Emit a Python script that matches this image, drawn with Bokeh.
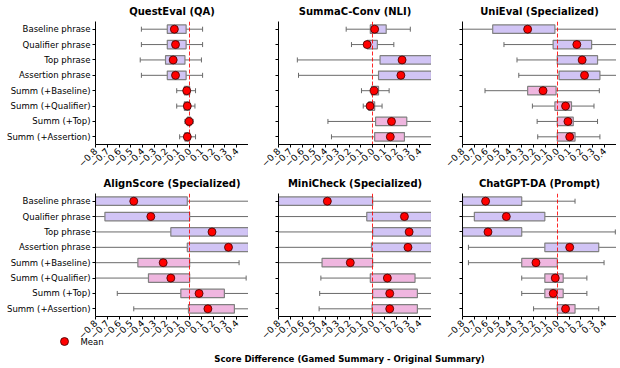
import math
from bokeh.plotting import figure
from bokeh.models import Range1d, FactorRange, FixedTicker, Label
from bokeh.layouts import column, row
from bokeh.embed import file_html
from bokeh.resources import INLINE

# ---------------- data ----------------
categories = ["Baseline phrase", "Qualifier phrase", "Top phrase", "Assertion phrase",
              "Summ (+Baseline)", "Summ (+Qualifier)", "Summ (+Top)", "Summ (+Assertion)"]

tick_values = [-0.8, -0.7, -0.6, -0.5, -0.4, -0.3, -0.2, -0.1, 0.0, 0.1, 0.2, 0.3, 0.4]
tick_labels = ["\u22120.8", "\u22120.7", "\u22120.6", "\u22120.5", "\u22120.4", "\u22120.3",
               "\u22120.2", "\u22120.1", "\u22120.0", "0.1", "0.2", "0.3", "0.4"]

panel_titles = ["QuestEval (QA)", "SummaC-Conv (NLI)", "UniEval (Specialized)",
                "AlignScore (Specialized)", "MiniCheck (Specialized)", "ChatGPT-DA (Prompt)"]

questeval_lo = [-0.41, -0.41, -0.42, -0.41, -0.11, -0.11, -0.04, -0.085]
questeval_q1 = [-0.19, -0.19, -0.205, -0.19, -0.045, -0.045, -0.02, -0.04]
questeval_q3 = [-0.03, -0.03, -0.04, -0.03, 0.0, 0.0, 0.01, 0.0]
questeval_hi = [0.11, 0.11, 0.10, 0.11, 0.05, 0.045, 0.03, 0.05]
questeval_mean = [-0.13, -0.12, -0.14, -0.12, -0.025, -0.02, -0.005, -0.02]

summac_lo = [-0.225, -0.18, -0.64, -0.63, -0.095, -0.08, -0.38, -0.35]
summac_q1 = [-0.02, -0.047, 0.063, 0.05, -0.01, -0.035, 0.025, 0.017]
summac_q3 = [0.115, 0.04, 0.75, 0.75, 0.05, 0.017, 0.29, 0.27]
summac_hi = [0.32, 0.18, 1.2, 1.2, 0.14, 0.08, 0.7, 0.7]
summac_mean = [0.017, -0.047, 0.25, 0.24, 0.012, -0.022, 0.16, 0.15]

unieval_lo = [-0.95, -0.45, -0.34, -0.325, -0.61, -0.21, -0.17, -0.165]
unieval_q1 = [-0.545, -0.035, 0.0, 0.015, -0.25, -0.02, 0.0, 0.0]
unieval_q3 = [-0.02, 0.29, 0.34, 0.36, -0.01, 0.12, 0.135, 0.15]
unieval_hi = [0.8, 0.75, 0.75, 0.8, 0.355, 0.31, 0.34, 0.36]
unieval_mean = [-0.25, 0.165, 0.21, 0.23, -0.12, 0.07, 0.09, 0.105]

alignscore_lo = [-1.0, -1.0, -1.0, -1.0, -1.0, -1.0, -0.615, -0.475]
alignscore_q1 = [-0.85, -0.72, -0.16, -0.02, -0.44, -0.35, -0.075, -0.01]
alignscore_q3 = [-0.02, 0.0, 0.6, 0.7, 0.0, 0.0, 0.295, 0.38]
alignscore_hi = [1.0, 1.0, 1.0, 1.0, 0.42, 0.48, 0.9, 0.9]
alignscore_mean = [-0.475, -0.33, 0.19, 0.33, -0.225, -0.16, 0.08, 0.155]

minicheck_lo = [-1.0, -1.0, -1.0, -1.0, -1.0, -0.44, -0.45, -0.455]
minicheck_q1 = [-0.85, -0.05, 0.0, -0.01, -0.43, -0.02, 0.0, -0.005]
minicheck_q3 = [0.0, 0.6, 0.7, 0.7, 0.0, 0.36, 0.38, 0.38]
minicheck_hi = [1.0, 1.0, 1.0, 1.0, 0.8, 0.9, 0.9, 0.9]
minicheck_mean = [-0.385, 0.27, 0.31, 0.30, -0.19, 0.125, 0.145, 0.145]

chatgpt_lo = [-1.0, -1.0, -1.0, -0.75, -0.75, -0.30, -0.30, -0.20]
chatgpt_q1 = [-0.85, -0.70, -0.85, -0.105, -0.30, -0.105, -0.105, 0.0]
chatgpt_q3 = [-0.30, -0.105, -0.30, 0.35, 0.0, 0.05, 0.05, 0.15]
chatgpt_hi = [0.15, 0.8, 0.49, 0.8, 0.395, 0.25, 0.25, 0.35]
chatgpt_mean = [-0.605, -0.43, -0.585, 0.105, -0.18, -0.017, -0.034, 0.07]

zero_line = [0.0]
legend_label = "Mean"
x_label = "Score Difference (Gamed Summary - Original Summary)"

# ---------------- style ----------------
FONT = "DejaVu Sans"
PHRASE_FILL = "#d1c4f5"
SUMM_FILL = "#efb6df"
EDGE = "#808080"
WHISK = "#6a6a6a"
MEAN_FILL = "red"
MEAN_EDGE = "#3a0000"
fills = [PHRASE_FILL] * 4 + [SUMM_FILL] * 4
FRAME_H = 123


def make_panel(title, lo, q1, q3, hi, mean, left_border, frame_w, top_border,
               bottom_border, show_labels):
    p = figure(frame_width=frame_w, frame_height=FRAME_H,
               x_range=Range1d(-0.8, 0.5),
               y_range=FactorRange(factors=categories[::-1]),
               output_backend="svg", toolbar_location=None,
               min_border_left=left_border, min_border_right=0,
               min_border_top=top_border, min_border_bottom=bottom_border,
               title=title)
    p.title.text_font = FONT
    p.title.text_font_style = "bold"
    p.title.text_font_size = "10px"
    p.title.align = "center"
    p.title.standoff = 10
    p.title.text_color = "black"

    p.segment(x0=lo, y0=categories, x1=q1, y1=categories, line_color=WHISK, line_width=1)
    p.segment(x0=q3, y0=categories, x1=hi, y1=categories, line_color=WHISK, line_width=1)
    p.scatter(x=lo, y=categories, marker="dash", angle=math.pi / 2, size=5,
              line_color=WHISK, line_width=1)
    p.scatter(x=hi, y=categories, marker="dash", angle=math.pi / 2, size=5,
              line_color=WHISK, line_width=1)
    p.hbar(y=categories, left=q1, right=q3, height=0.55, fill_color=fills,
           line_color=EDGE, line_width=1.2)
    p.vspan(x=zero_line, line_color="red", line_dash="4 2", line_width=1, line_alpha=0.85)
    p.scatter(x=mean, y=categories, size=8, fill_color=MEAN_FILL,
              line_color=MEAN_EDGE, line_width=0.8)

    p.xaxis.ticker = FixedTicker(ticks=tick_values, minor_ticks=[])
    p.xaxis.major_label_overrides = dict(zip(tick_values, tick_labels))
    p.xaxis.major_label_orientation = math.pi / 4
    p.xaxis.major_label_standoff = 2
    p.yaxis.major_label_standoff = 2
    for ax in (p.xaxis[0], p.yaxis[0]):
        ax.axis_line_color = "black"
        ax.axis_line_width = 1
        ax.major_tick_line_color = "black"
        ax.major_tick_out = 3
        ax.major_tick_in = 0
        ax.minor_tick_out = 0
        ax.minor_tick_in = 0
        ax.major_label_text_font = FONT
        ax.major_label_text_color = "black"
    p.xaxis.major_label_text_font_size = "9px"
    if show_labels:
        p.yaxis.major_label_text_font_size = "8.5px"
    else:
        # keep tick marks, draw no tick labels
        p.yaxis.major_label_text_font_size = "0px"
        p.yaxis.major_label_text_color = None
    p.grid.visible = False
    p.outline_line_color = None
    p.background_fill_color = "white"
    p.border_fill_color = "white"
    return p


p1 = make_panel(panel_titles[0], questeval_lo, questeval_q1, questeval_q3, questeval_hi,
                questeval_mean, 95, 153, 21, 33, True)
p2 = make_panel(panel_titles[1], summac_lo, summac_q1, summac_q3, summac_hi,
                summac_mean, 30, 153, 21, 33, False)
p3 = make_panel(panel_titles[2], unieval_lo, unieval_q1, unieval_q3, unieval_hi,
                unieval_mean, 31, 154, 21, 33, False)
p4 = make_panel(panel_titles[3], alignscore_lo, alignscore_q1, alignscore_q3, alignscore_hi,
                alignscore_mean, 95, 153, 16, 28, True)
p5 = make_panel(panel_titles[4], minicheck_lo, minicheck_q1, minicheck_q3, minicheck_hi,
                minicheck_mean, 30, 153, 16, 28, False)
p6 = make_panel(panel_titles[5], chatgpt_lo, chatgpt_q1, chatgpt_q3, chatgpt_hi,
                chatgpt_mean, 31, 154, 16, 28, False)

# footer: legend + shared x-axis label (pixel-like coordinates), overlapping the row above
p7 = figure(width=616, height=40, x_range=Range1d(0, 616), y_range=Range1d(0, 40),
            output_backend="svg", toolbar_location=None, x_axis_type=None, y_axis_type=None,
            min_border=0, margin=(-20, 0, 0, 0))
p7.grid.visible = False
p7.outline_line_color = None
p7.background_fill_alpha = 0
p7.border_fill_alpha = 0
p7.scatter(x=[64], y=[23], size=8, fill_color=MEAN_FILL, line_color=MEAN_EDGE, line_width=0.8)
p7.add_layout(Label(x=80, y=23, text=legend_label, text_align="left", text_baseline="middle",
                    text_font=FONT, text_font_size="8.5px", text_color="black"))
p7.add_layout(Label(x=349, y=6, text=x_label,
                    text_align="center", text_baseline="middle", text_font=FONT,
                    text_font_style="bold", text_font_size="8.6px", text_color="black"))

top_row = row(p1, p2, p3, spacing=0, margin=(-2, 0, 0, 0))
bottom_row = row(p4, p5, p6, spacing=0, margin=(-7, 0, 0, 0))
layout = column(top_row, bottom_row, p7, spacing=0)

open("out.html", "w").write(file_html(layout, INLINE))
